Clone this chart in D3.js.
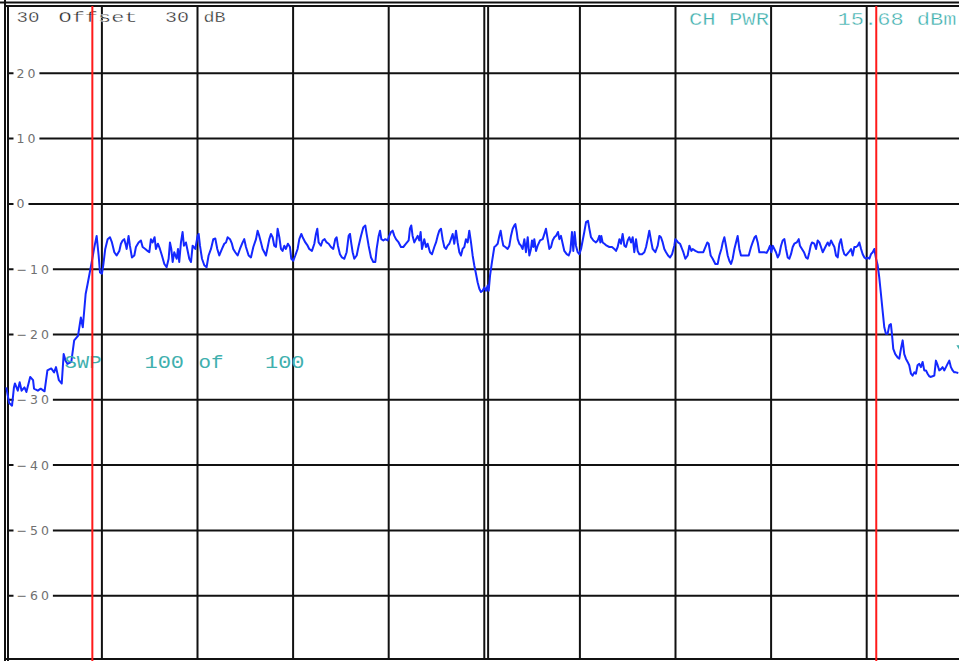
<!DOCTYPE html>
<html><head><meta charset="utf-8">
<script src="https://cdn.jsdelivr.net/npm/d3@7"></script>
<style>html,body{margin:0;padding:0;background:#fff;overflow:hidden}</style>
</head><body><svg id="c" width="959" height="661"></svg>
<script>
// Frequency in screen divisions (0..10), level in dBm
const freqDiv = [
0.00,0.03,0.06,0.08,0.09,0.12,0.14,0.16,0.19,0.21,0.25,0.28,0.29,0.33,0.36,0.40,0.43,0.47,0.50,0.52,
0.55,0.58,0.60,0.62,0.64,0.68,0.71,0.75,0.78,0.80,0.83,0.85,0.89,0.92,
0.945,0.966,0.980,1.000,1.014,1.035,1.060,1.084,1.105,1.130,1.154,1.182,1.199,1.217,1.234,1.252,1.259,1.279,1.293,1.314,
1.339,1.356,1.384,1.408,1.426,1.454,1.478,1.496,1.513,1.531,1.551,1.565,1.586,1.607,1.628,1.653,1.677,1.698,1.712,1.726,
1.740,1.757,1.782,1.796,1.809,1.827,1.844,1.858,1.879,1.893,1.914,1.932,1.949,1.977,2.001,2.012,2.026,2.047,2.071,2.095,
2.116,2.141,2.165,2.186,2.207,2.228,2.256,2.280,2.298,2.315,2.340,2.360,2.374,2.395,2.420,2.444,2.472,2.489,2.507,2.535,
2.559,2.584,2.612,2.629,2.646,2.664,2.681,2.699,2.716,2.737,2.751,2.768,2.786,2.803,2.821,2.838,2.856,2.873,2.890,2.908,
2.925,2.946,2.967,2.981,3.002,3.023,3.047,3.065,3.086,3.100,3.128,3.152,3.169,3.197,3.222,3.239,3.253,3.267,3.291,3.309,
3.330,3.351,3.372,3.396,3.420,3.441,3.455,3.469,3.490,3.511,3.536,3.560,3.581,3.595,3.609,3.623,3.640,3.665,3.686,3.710,
3.734,3.755,3.769,3.790,3.815,3.839,3.860,3.874,3.895,3.909,3.923,3.944,3.964,3.989,4.006,4.024,4.041,4.059,4.076,4.104,
4.128,4.153,4.181,4.209,4.222,4.236,4.250,4.268,4.285,4.303,4.320,4.334,4.348,4.372,4.390,4.407,4.432,4.453,4.477,4.495,
4.512,4.529,4.547,4.564,4.582,4.599,4.616,4.634,4.651,4.669,4.686,4.704,4.721,4.739,4.756,4.773,4.791,4.808,4.826,4.843,
4.861,4.878,4.895,4.913,4.930,4.948,4.965,4.983,5.000,5.018,5.035,
5.046,5.060,5.080,5.105,5.122,5.140,5.157,5.171,5.185,5.199,5.220,5.244,5.262,5.279,5.297,5.314,5.325,5.339,5.349,5.366,
5.384,5.401,5.419,5.436,5.454,5.471,5.488,5.499,5.513,5.523,5.541,5.558,5.583,5.611,5.628,5.645,5.663,5.680,5.698,5.715,
5.733,5.750,5.771,5.785,5.802,5.820,5.837,5.862,5.883,5.900,5.917,5.931,5.945,5.959,5.977,5.994,6.012,6.029,6.046,6.064,
6.085,6.099,6.116,6.141,6.168,6.186,6.203,6.214,6.224,6.238,6.256,6.280,6.308,6.336,6.360,6.378,6.395,6.413,6.430,6.447,
6.465,6.482,6.500,6.517,6.535,6.552,6.569,6.587,6.604,6.622,6.650,6.674,6.692,6.709,6.726,6.744,6.761,6.789,6.814,6.831,
6.848,6.866,6.883,6.901,6.922,6.943,6.964,6.988,6.998,7.012,7.026,7.047,7.061,7.082,7.103,7.127,7.145,7.166,7.180,7.208,
7.235,7.267,7.291,7.319,7.333,7.347,7.368,7.389,7.417,7.441,7.459,7.480,7.494,7.511,7.528,7.546,7.563,7.581,7.598,7.616,
7.633,7.650,7.668,7.685,7.703,7.738,7.766,7.790,7.807,7.828,7.842,7.860,7.877,7.905,7.929,7.954,7.975,7.989,8.003,8.017,
8.034,8.051,8.069,8.086,8.104,8.121,8.139,8.156,8.174,8.191,8.208,8.226,8.243,8.268,8.289,8.302,8.323,8.344,8.365,8.383,
8.400,8.414,8.428,8.452,8.470,8.487,8.505,8.522,8.540,8.557,8.574,8.592,8.609,8.627,8.644,8.662,8.679,8.697,8.714,8.731,
8.749,8.766,8.784,8.812,8.836,8.853,8.871,8.888,8.906,8.923,8.941,8.958,8.976,8.993,9.010,9.028,9.045,9.063,9.080,9.098,
9.115,9.131,9.149,9.166,9.184,9.201,9.219,9.236,9.253,9.264,9.278,9.299,9.323,9.341,9.358,9.376,9.393,9.410,9.428,9.445,
9.463,9.480,9.498,9.515,9.532,9.550,9.567,9.585,9.602,9.620,9.637,9.654,9.672,9.689,9.707,9.724,9.742,9.759,9.777,9.794,
9.811,9.829,9.846,9.864,9.881,9.899,9.916,9.933,9.958
];
const levelDb = [
-28.1,-30.5,-30.9,-28.1,-27.5,-28.6,-27.3,-28.6,-28.1,-28.8,-26.5,-27.0,-28.3,-28.6,-28.3,-28.7,-25.5,-25.2,-25.8,-25.0,
-27.0,-27.5,-23.0,-24.0,-24.5,-24.2,-20.9,-20.2,-17.4,-18.9,-13.8,-12.3,-9.2,-6.7,
-4.9,-7.9,-10.5,-10.7,-9.4,-6.9,-5.4,-5.1,-5.9,-7.4,-7.9,-7.2,-6.1,-5.6,-5.4,-6.4,-6.9,-4.9,-6.4,-8.2,
-7.9,-6.6,-5.9,-5.6,-6.6,-6.9,-7.2,-7.4,-5.4,-5.9,-5.1,-6.9,-6.1,-6.9,-7.9,-9.2,-9.7,-8.4,-5.9,-6.9,
-8.9,-7.4,-8.4,-6.9,-8.9,-5.9,-4.3,-6.4,-5.9,-6.9,-8.4,-8.9,-6.4,-6.9,-4.9,-4.6,-6.4,-8.4,-9.4,-9.7,
-7.9,-6.9,-5.4,-5.3,-6.9,-7.9,-6.9,-6.1,-5.9,-5.1,-5.4,-6.1,-6.9,-7.4,-7.9,-6.9,-5.9,-5.4,-6.6,-7.9,
-8.2,-6.6,-5.4,-4.1,-4.9,-5.9,-6.9,-7.4,-7.9,-6.4,-5.4,-4.6,-5.1,-6.4,-6.6,-3.8,-5.1,-6.9,-7.2,-6.4,
-6.9,-6.1,-6.6,-8.4,-8.7,-7.9,-6.9,-5.4,-4.6,-5.1,-5.9,-6.4,-6.9,-7.2,-6.1,-4.6,-3.8,-5.9,-6.4,-5.6,
-5.4,-5.9,-6.1,-6.6,-6.9,-5.4,-5.1,-6.4,-7.7,-8.2,-8.4,-7.4,-4.9,-4.6,-6.1,-7.4,-8.4,-7.9,-6.4,-4.9,
-3.6,-3.3,-4.6,-6.4,-8.2,-8.9,-8.9,-6.9,-4.9,-4.1,-5.4,-5.6,-5.4,-5.6,-4.9,-4.3,-4.1,-4.9,-5.4,-5.9,
-6.6,-6.6,-6.1,-5.6,-3.8,-3.3,-4.9,-5.9,-5.4,-4.9,-5.6,-4.3,-6.9,-5.4,-6.6,-6.1,-7.4,-7.7,-6.6,-5.9,
-4.9,-4.1,-3.8,-5.4,-6.6,-6.9,-6.4,-6.1,-5.4,-4.6,-6.1,-4.1,-5.9,-7.4,-7.9,-6.9,-6.6,-5.4,-5.9,-4.1,
-5.9,-7.9,-9.4,-10.7,-12.0,-13.0,-13.5,-13.3,-12.8,-13.3,-12.5,
-13.3,-11.0,-8.9,-6.6,-6.4,-6.1,-4.9,-4.1,-5.4,-6.4,-6.6,-6.9,-6.4,-4.9,-3.8,-3.3,-3.1,-4.3,-5.4,-6.1,
-6.4,-6.9,-5.4,-7.4,-5.1,-7.9,-6.9,-5.6,-6.6,-5.4,-7.2,-6.4,-5.6,-5.4,-4.6,-3.8,-5.4,-6.9,-6.6,-5.6,
-5.1,-4.9,-4.3,-5.4,-4.9,-6.1,-7.2,-7.7,-7.9,-7.2,-4.3,-7.2,-4.3,-6.4,-7.4,-7.7,-6.9,-5.6,-4.3,-2.8,
-2.6,-3.8,-5.1,-5.6,-5.9,-5.6,-4.9,-5.9,-4.9,-5.9,-6.1,-6.4,-6.6,-6.6,-6.9,-7.2,-6.6,-5.4,-6.1,-4.6,
-6.4,-6.6,-5.6,-5.1,-5.9,-5.1,-7.4,-5.4,-7.2,-7.7,-7.7,-7.4,-6.6,-5.4,-4.1,-5.6,-6.9,-7.4,-6.4,-4.9,
-5.1,-5.9,-6.9,-7.4,-7.9,-8.2,-7.7,-6.4,-5.4,-5.6,-5.9,-6.1,-6.6,-7.4,-8.4,-7.9,-6.4,-7.2,-6.9,-7.2,
-7.4,-7.4,-7.4,-6.4,-5.9,-6.1,-7.9,-8.4,-9.2,-9.2,-7.9,-6.9,-5.9,-5.1,-6.4,-7.9,-8.7,-9.2,-8.4,-6.9,
-5.9,-4.9,-6.9,-7.9,-7.9,-7.9,-7.9,-6.6,-5.9,-5.1,-4.9,-5.9,-7.4,-7.4,-7.4,-7.5,-6.9,-6.4,-7.4,-6.4,
-6.9,-7.4,-8.2,-7.7,-6.4,-5.6,-5.4,-6.9,-8.2,-8.4,-7.7,-6.6,-6.1,-5.9,-5.4,-6.4,-6.9,-7.4,-8.2,-8.4,
-7.4,-6.4,-5.9,-6.1,-6.9,-5.6,-5.9,-6.6,-7.4,-6.9,-6.4,-5.9,-6.4,-5.6,-6.1,-6.6,-7.9,-8.2,-6.1,-5.4,
-6.9,-7.7,-7.9,-7.4,-6.9,-7.9,-6.6,-6.6,-6.4,-5.9,-6.9,-7.7,-8.2,-8.4,-8.2,-8.4,-7.7,-7.4,-6.9,-8.4,
-9.4,-11.2,-13.8,-16.3,-18.9,-19.9,-19.9,-18.6,-18.4,-19.9,-22.2,-23.0,-23.5,-23.7,-22.2,-20.9,-23.0,-23.7,-24.2,-24.7,
-26.0,-26.3,-25.8,-26.0,-24.7,-24.5,-25.0,-24.2,-25.5,-25.5,-26.0,-26.4,-26.5,-26.4,-26.3,-24.0,-24.7,-25.5,-25.3,-25.0,
-25.5,-25.0,-24.5,-24.0,-25.0,-25.5,-25.8,-25.8,-25.9
];
const yTicks = [20,10,0,-10,-20,-30,-40,-50,-60];
const yTickLabels = ["20","10","0","\u221210","\u221220","\u221230","\u221240","\u221250","\u221260"];
const xGrid = [1,2,3,4,5,6,7,8,9];
const centerLine = [5.04];
const channelLimits = [0.90, 9.10];
const markerPos = [{f:9.99, db:-22.4}];
const topLeftTexts = [{t:"30",x:16.5,w:23},{t:"Offset",x:58.5,w:79},{t:"30",x:165,w:24},{t:"dB",x:203.5,w:22}];
const topRightTexts = [{t:"CH PWR",x:689,w:80},{t:"15.68 dBm",x:837.5,w:119}];
const sweepTexts = [{t:"SWP",x:64.5,w:37},{t:"100",x:144.5,w:39.5},{t:"of",x:198.5,w:25},{t:"100",x:265,w:39.5}];

const W = 959, H = 661;
const x = d3.scaleLinear().domain([0,10]).range([6.3,962.3]);
const y = d3.scaleLinear().domain([30,-70]).range([8,661]);
const svg = d3.select("#c");
svg.append("rect").attr("width",W).attr("height",H).attr("fill","#fff");

const gridColor = "#111";
// frame
const g = svg.append("g");
g.append("line").attr("x1",0).attr("x2",W).attr("y1",2.5).attr("y2",2.5).attr("stroke",gridColor).attr("stroke-width",2);
g.append("line").attr("x1",4).attr("x2",W).attr("y1",6).attr("y2",6).attr("stroke",gridColor).attr("stroke-width",2);
g.append("line").attr("x1",5).attr("x2",5).attr("y1",0).attr("y2",H).attr("stroke",gridColor).attr("stroke-width",2);
g.append("line").attr("x1",8).attr("x2",8).attr("y1",6).attr("y2",H).attr("stroke",gridColor).attr("stroke-width",2);
g.append("line").attr("x1",4).attr("x2",W).attr("y1",659).attr("y2",659).attr("stroke",gridColor).attr("stroke-width",2);

// vertical grid
g.selectAll(".vg").data(xGrid.concat(centerLine)).enter().append("line")
  .attr("x1",d=>x(d)).attr("x2",d=>x(d)).attr("y1",6).attr("y2",659)
  .attr("stroke",gridColor).attr("stroke-width",2);
// horizontal grid
g.selectAll(".hg").data(yTicks).enter().append("line")
  .attr("x1",8).attr("x2",W).attr("y1",d=>y(d)).attr("y2",d=>y(d))
  .attr("stroke",gridColor).attr("stroke-width",2);

// tick labels with white boxes
const tl = svg.append("g");
yTicks.forEach((v,i)=>{
  const t = tl.append("text").attr("x",16.5).attr("y",y(v)+4.4)
    .attr("font-family","DejaVu Sans").attr("font-size",12.5).attr("letter-spacing","3px")
    .attr("fill","#707070").text(yTickLabels[i]);
  const bb = t.node().getBBox();
  tl.insert("rect","text").attr("x",13.5).attr("y",y(v)-6).attr("width",bb.x+bb.width-13.5+1).attr("height",12).attr("fill","#fff");
});

// trace
const pts = freqDiv.map((f,i)=>[f,levelDb[i]]);
svg.append("path").datum(pts)
  .attr("d",d3.line().x(d=>x(d[0])).y(d=>y(d[1])))
  .attr("fill","none").attr("stroke","#1428ff").attr("stroke-width",2).attr("stroke-linejoin","round");

// texts (thin instrument font look: slight white erosion)
const mono = "Liberation Mono, Courier New, monospace";
topLeftTexts.forEach(d=>{
  svg.append("text").attr("x",d.x).attr("y",22.3).attr("font-family",mono).attr("font-size",15.5)
    .attr("fill","#222").attr("stroke","#fff").attr("stroke-width",0.35).attr("paint-order","fill")
    .attr("textLength",d.w).attr("lengthAdjust","spacingAndGlyphs").text(d.t);
});
const teal = "#3fb0ae";
topRightTexts.forEach(d=>{
  svg.append("text").attr("x",d.x).attr("y",25).attr("font-family",mono).attr("font-size",18)
    .attr("fill",teal).attr("stroke","#fff").attr("stroke-width",0.35).attr("paint-order","fill")
    .attr("textLength",d.w).attr("lengthAdjust","spacingAndGlyphs").text(d.t);
});
sweepTexts.forEach(d=>{
  svg.append("text").attr("x",d.x).attr("y",368.3).attr("font-family",mono).attr("font-size",18)
    .attr("fill",teal).attr("textLength",d.w).attr("lengthAdjust","spacingAndGlyphs").text(d.t);
});

// marker triangle
svg.selectAll(".mk").data(markerPos).enter().append("path")
  .attr("d",d=>{const cx=x(d.f), cy=y(d.db); return `M${cx-5},${cy-5}L${cx+5},${cy-5}L${cx},${cy+3}Z`;})
  .attr("fill",teal);

// channel limit lines
svg.selectAll(".cl").data(channelLimits).enter().append("line")
  .attr("x1",d=>x(d)).attr("x2",d=>x(d)).attr("y1",6).attr("y2",H)
  .attr("stroke","#ff1a1a").attr("stroke-width",2);
</script></body></html>
